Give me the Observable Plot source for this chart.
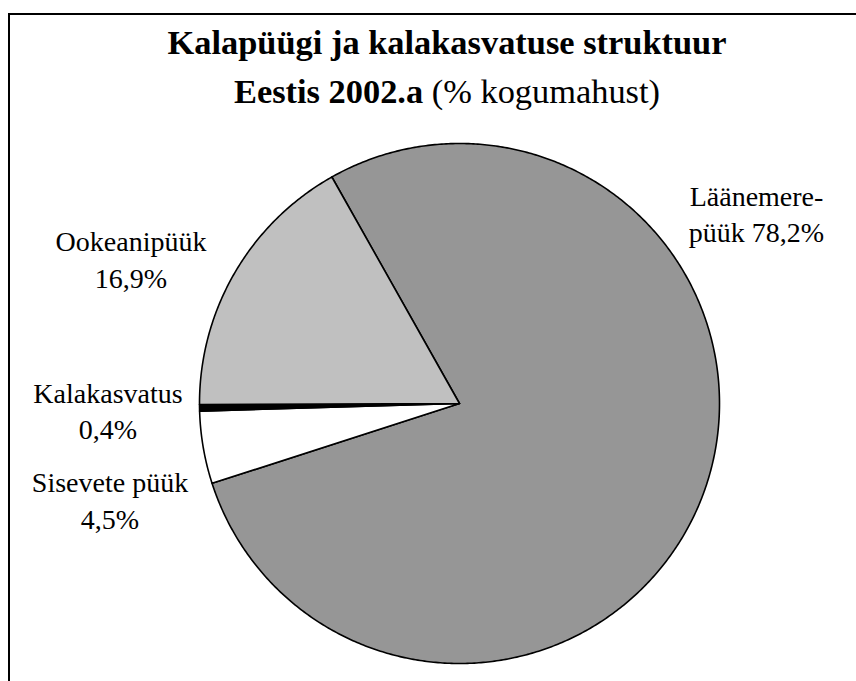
<!DOCTYPE html>
<html><head><meta charset="utf-8">
<script src="https://cdn.jsdelivr.net/npm/d3@7"></script>
<script src="https://cdn.jsdelivr.net/npm/@observablehq/plot@0.6"></script>
<style>
html,body{margin:0;padding:0;background:#fff;overflow:hidden;width:856px;height:681px}
#chart{position:absolute;left:0;top:0}
#chart svg text{font-family:"Liberation Serif","Times New Roman",serif}
#frame{position:absolute;left:8px;top:13px;width:870px;height:720px;border-top:2px solid #000;border-left:2px solid #000;box-sizing:border-box}
#title{position:absolute;left:47px;width:800px;top:18px;text-align:center;font-family:"Liberation Serif","Times New Roman",serif;font-size:34.4px;line-height:49px;font-weight:bold;color:#000}
#title span{font-weight:normal}
</style></head><body>
<div id="chart"></div>
<div id="frame"></div>
<div id="title">Kalapüügi ja kalakasvatuse struktuur<br>Eestis 2002.a <span>(% kogumahust)</span></div>
<script>
// Data
const categories = ["Läänemerepüük", "Sisevete püük", "Kalakasvatus", "Ookeanipüük"];
const values = [78.2, 4.5, 0.4, 16.9];
const labelTexts = ["Läänemere-\npüük 78,2%", "Sisevete püük\n4,5%", "Kalakasvatus\n0,4%", "Ookeanipüük\n16,9%"];

// Styles / layout (kept apart from data)
const sliceColors = ["#969696", "#ffffff", "#000000", "#c0c0c0"];
const W = 856, H = 681;
const cx = 459, cy = 403, R = 260;
const startDeg = 330.6;
const labelPos = [[756, 212], [109.5, 498.5], [107.5, 409], [130.5, 257.5]];

const table = categories.map((c, i) => ({name: c, value: values[i], label: labelTexts[i], color: sliceColors[i], lx: labelPos[i][0], ly: labelPos[i][1]}));

const a0 = startDeg * Math.PI / 180;
const arcs = d3.pie().sort(null).value(d => d.value).startAngle(a0).endAngle(a0 + 2 * Math.PI)(table);

function slicePoints(arc) {
  const pts = [{x: cx, y: cy}];
  const n = Math.max(2, Math.ceil((arc.endAngle - arc.startAngle) / (Math.PI / 360)));
  for (let k = 0; k <= n; k++) {
    const a = arc.startAngle + (arc.endAngle - arc.startAngle) * k / n;
    pts.push({x: cx + R * Math.sin(a), y: cy - R * Math.cos(a)});
  }
  pts.push({x: cx, y: cy});
  return pts;
}

const sliceMarks = arcs.map(arc => Plot.line(slicePoints(arc), {
  x: "x", y: "y", fill: arc.data.color, stroke: "#000", strokeWidth: 1.6, strokeLinejoin: "round", curve: "linear"
}));

const chart = Plot.plot({
  width: W, height: H, margin: 0,
  x: {domain: [0, W], range: [0, W], axis: null},
  y: {domain: [0, H], range: [0, H], axis: null},
  style: {background: "transparent", fontFamily: "Liberation Serif"},
  marks: [
    ...sliceMarks,
    Plot.text(table, {
      x: "lx", y: "ly", text: "label", fontSize: 28, fontFamily: "Liberation Serif", lineHeight: 1.3,
      textAnchor: "middle", lineAnchor: "middle", fill: "#000"
    })
  ]
});
document.getElementById("chart").appendChild(chart);
</script>
</body></html>
